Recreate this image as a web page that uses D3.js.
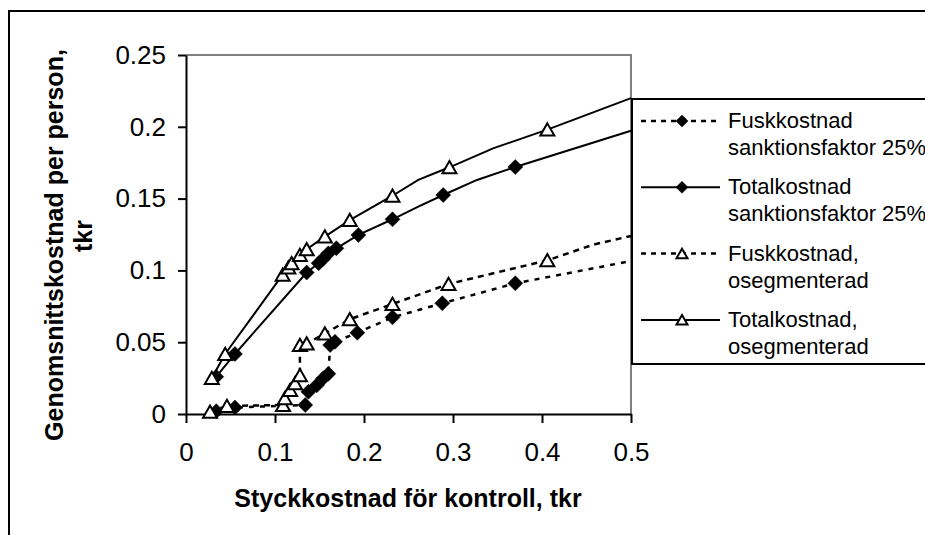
<!DOCTYPE html>
<html>
<head>
<meta charset="utf-8">
<script src="https://cdn.jsdelivr.net/npm/d3@7"></script>
<style>
  body { margin: 0; background: #fff; }
  svg { font-family: "Liberation Sans", Arial, sans-serif; }
  .axis path, .axis line { stroke: #000; stroke-width: 2; }
  .axis text { font-size: 26px; fill: #000; }
  .title { font-size: 25px; font-weight: bold; }
  .legtext { font-size: 22px; }
</style>
</head>
<body>
<svg width="925" height="535"></svg>
<script>
// **** chart data ****

var xTicks = [0, 0.1, 0.2, 0.3, 0.4, 0.5];
var yTicks = [0, 0.05, 0.1, 0.15, 0.2, 0.25];

var seriesNames = [
    ['Fuskkostnad', 'sanktionsfaktor 25%'],
    ['Totalkostnad', 'sanktionsfaktor 25%'],
    ['Fuskkostnad,', 'osegmenterad'],
    ['Totalkostnad,', 'osegmenterad']
];

// Fuskkostnad sanktionsfaktor 25%
var fuskSankX = [0.034, 0.055, 0.134, 0.1375, 0.147, 0.154, 0.160, 0.162, 0.1674, 0.1925, 0.232, 0.288, 0.370, 0.5];
var fuskSankY = [0.002, 0.0045, 0.0063, 0.0155, 0.020, 0.0248, 0.028, 0.048, 0.0503, 0.0566, 0.0673, 0.0771, 0.091, 0.1065];
var fuskSankM = [1, 1, 1, 1, 1, 1, 1, 1, 1, 1, 1, 1, 1, 0];

// Totalkostnad sanktionsfaktor 25%
var totSankX = [0.034, 0.055, 0.1356, 0.149, 0.154, 0.160, 0.169, 0.1937, 0.232, 0.261, 0.289, 0.327, 0.370, 0.5];
var totSankY = [0.026, 0.0418, 0.0985, 0.105, 0.108, 0.1119, 0.1154, 0.1247, 0.1356, 0.1444, 0.1525, 0.163, 0.172, 0.1973];
var totSankM = [1, 1, 1, 1, 1, 1, 1, 1, 1, 0, 1, 0, 1, 0];

// Fuskkostnad, osegmenterad
var fuskOsegX = [0.027, 0.046, 0.109, 0.111, 0.117, 0.1225, 0.128, 0.128, 0.1356, 0.156, 0.184, 0.232, 0.295, 0.406, 0.458, 0.5];
var fuskOsegY = [0.0016, 0.0056, 0.0063, 0.011, 0.0167, 0.0214, 0.027, 0.048, 0.049, 0.056, 0.066, 0.0766, 0.0905, 0.107, 0.118, 0.124];
var fuskOsegM = [1, 1, 1, 1, 1, 1, 1, 1, 1, 1, 1, 1, 1, 1, 0, 0];

// Totalkostnad, osegmenterad
var totOsegX = [0.029, 0.044, 0.1086, 0.115, 0.1187, 0.128, 0.1356, 0.156, 0.184, 0.232, 0.261, 0.296, 0.345, 0.406, 0.5];
var totOsegY = [0.025, 0.0418, 0.097, 0.102, 0.105, 0.1107, 0.1147, 0.1235, 0.135, 0.152, 0.163, 0.1718, 0.185, 0.198, 0.22];
var totOsegM = [1, 1, 1, 1, 1, 1, 1, 1, 1, 1, 0, 1, 0, 1, 0];

// **** scales, axes ****

var xScale = d3.scaleLinear().domain([0, 0.5]).range([186, 631]);
var yScale = d3.scaleLinear().domain([0, 0.25]).range([414, 55]);

var svg = d3.select('svg');

// outer chart frame (runs off the right and bottom edge)
svg.append('rect')
    .attr('x', 9).attr('y', 11)
    .attr('width', 1000).attr('height', 1000)
    .attr('fill', '#fff').attr('stroke', '#000').attr('stroke-width', 2);

// plot area border (grey top + right)
svg.append('path')
    .attr('d', 'M' + xScale(0) + ',' + yScale(0.25) + 'H' + xScale(0.5) + 'V' + yScale(0))
    .attr('fill', 'none').attr('stroke', '#808080').attr('stroke-width', 2);

function fmt(d) { return String(+d.toFixed(2)); }

svg.append('g').attr('class', 'x axis')
    .attr('transform', 'translate(0,' + yScale(0) + ')')
    .call(d3.axisBottom(xScale).tickValues(xTicks).tickFormat(fmt)
        .tickSize(9).tickSizeOuter(0).tickPadding(20));

svg.append('g').attr('class', 'y axis')
    .attr('transform', 'translate(' + xScale(0) + ',0)')
    .call(d3.axisLeft(yScale).tickValues(yTicks).tickFormat(fmt)
        .tickSize(8).tickSizeOuter(0).tickPadding(12));

svg.selectAll('.axis').attr('font-family', null).attr('font-size', null);

svg.append('text')
    .text('Styckkostnad för kontroll, tkr')
    .attr('class', 'title')
    .attr('text-anchor', 'middle')
    .attr('transform', 'translate(408,507)');

// y title, two lines (each centred on its own)
svg.append('text')
    .text('Genomsnittskostnad per person,')
    .attr('class', 'title')
    .attr('text-anchor', 'middle')
    .attr('transform', 'translate(63,245) rotate(-90)');
svg.append('text')
    .text('tkr')
    .attr('class', 'title')
    .attr('text-anchor', 'middle')
    .attr('transform', 'translate(92,236) rotate(-90)');

// **** series ****

var series = [
    {xs: fuskSankX, ys: fuskSankY, ms: fuskSankM, dash: '5,6', marker: 'diamond'},
    {xs: totSankX, ys: totSankY, ms: totSankM, dash: null, marker: 'diamond'},
    {xs: fuskOsegX, ys: fuskOsegY, ms: fuskOsegM, dash: '6,5', marker: 'triangle'},
    {xs: totOsegX, ys: totOsegY, ms: totOsegM, dash: null, marker: 'triangle'}
];

function markerPath(type, s) {
    if (type == 'diamond') {
        return 'M0,' + (-s) + 'L' + s + ',0L0,' + s + 'L' + (-s) + ',0Z';
    }
    return 'M0,' + (-s * 0.9) + 'L' + s + ',' + (s * 0.85) + 'L' + (-s) + ',' + (s * 0.85) + 'Z';
}

var line = d3.line()
    .x(function(d) { return xScale(d[0]); })
    .y(function(d) { return yScale(d[1]); });

series.forEach(function(s) {
    var pts = s.xs.map(function(v, i) { return [v, s.ys[i], s.ms[i]]; });
    svg.append('path')
        .datum(pts)
        .attr('d', line)
        .attr('fill', 'none')
        .attr('stroke', '#000')
        .attr('stroke-width', s.dash ? 2.5 : 2)
        .attr('stroke-dasharray', s.dash);
    s.pts = pts;
});

series.forEach(function(s) {
    svg.append('g').selectAll('path')
        .data(s.pts.filter(function(d) { return d[2]; }))
        .enter().append('path')
        .attr('transform', function(d) { return 'translate(' + xScale(d[0]) + ',' + yScale(d[1]) + ')'; })
        .attr('d', markerPath(s.marker, s.marker == 'diamond' ? 7.5 : 7))
        .attr('fill', s.marker == 'diamond' ? '#000' : '#fff')
        .attr('stroke', '#000')
        .attr('stroke-width', s.marker == 'diamond' ? 0.5 : 2);
});

// **** legend ****

var legend = svg.append('g').attr('transform', 'translate(632,99)');
legend.append('rect')
    .attr('width', 400).attr('height', 265)
    .attr('fill', '#fff').attr('stroke', '#000').attr('stroke-width', 2);

series.forEach(function(s, i) {
    var g = legend.append('g').attr('transform', 'translate(0,' + (22 + i * 66.3) + ')');
    g.append('line')
        .attr('x1', 9).attr('x2', 88)
        .attr('stroke', '#000')
        .attr('stroke-width', s.dash ? 2.5 : 2)
        .attr('stroke-dasharray', s.dash ? '5,5' : null);
    g.append('path')
        .attr('transform', 'translate(50,0)')
        .attr('d', markerPath(s.marker, s.marker == 'diamond' ? 6 : 5.5))
        .attr('fill', s.marker == 'diamond' ? '#000' : '#fff')
        .attr('stroke', '#000')
        .attr('stroke-width', s.marker == 'diamond' ? 0.5 : 2);
    var t = g.append('text').attr('class', 'legtext');
    t.append('tspan').attr('x', 96).attr('y', 7).text(seriesNames[i][0]);
    t.append('tspan').attr('x', 96).attr('y', 34).text(seriesNames[i][1]);
});
</script>
</body>
</html>
